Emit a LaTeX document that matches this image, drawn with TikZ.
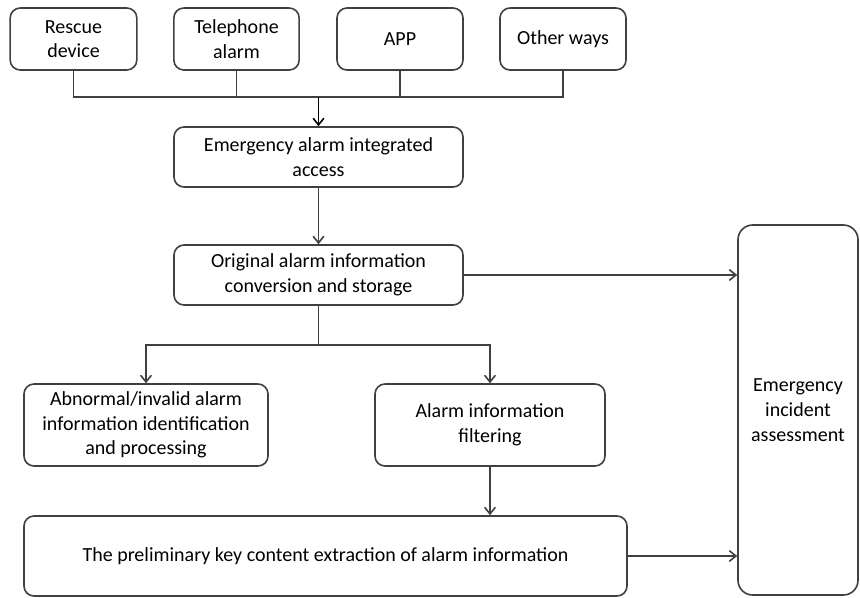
\documentclass[tikz,border=0pt]{standalone}
\usepackage{fontspec}
\setmainfont{Carlito}
\usepackage{tikz}
\usetikzlibrary{arrows.meta, calc}
\definecolor{line1}{rgb}{0.25, 0.25, 0.25}

\begin{document}
\begin{tikzpicture}[x=0.75pt, y=-0.75pt]
\tikzstyle{box} = [draw=line1, line width=1.2pt, rounded corners=7.5pt, align=center, inner sep=2pt, font=\fontsize{15}{18.5}\selectfont];
\tikzstyle{link} = [draw=line1, line width=1.2pt]
\tikzstyle{arrow} = [link, -{Straight Barb[length=5pt, width=8pt]}]

\useasboundingbox (0,0) rectangle (860,597);

\node [box, minimum width=95pt, minimum height=46.5pt] (rescue) at (73.5,39) {Rescue\\device};
\node [box, minimum width=94pt, minimum height=46.5pt] (phone) at (236.5,39) {Telephone\\alarm};
\node [box, minimum width=94.5pt, minimum height=46.5pt] (app) at (400,39) {APP};
\node [box, minimum width=94.5pt, minimum height=46.5pt] (other) at (563,39) {Other ways};

\node [box, minimum width=216.75pt, minimum height=45pt] (access) at (318.5,157) {Emergency alarm integrated\\access};
\node [box, minimum width=216.75pt, minimum height=45pt] (convert) at (318.5,275) {Original alarm information\\conversion and storage};

\node [box, minimum width=183pt, minimum height=61.5pt] (invalid) at (146,425) {Abnormal/invalid alarm\\information identification\\and processing};
\node [box, minimum width=172.5pt, minimum height=61.5pt] (filter) at (490,425) {Alarm information\\filtering};

\node [box, minimum width=452.25pt, minimum height=60pt] (extract) at (325.5,556) {The preliminary key content extraction of alarm information};

\node [box, rounded corners=11pt, minimum width=90pt, minimum height=277.5pt] (assess) at (798,410) {Emergency\\incident\\assessment};

\coordinate (bus) at (318.5,97);
\coordinate (split) at (318.5,345);

\draw [link] (rescue.south) -- (rescue.south |- bus) -- (other.south |- bus) -- (other.south);
\draw [link] (phone.south) -- (phone.south |- bus);
\draw [link] (app.south) -- (app.south |- bus);
\draw [arrow, draw=black] (bus) -- (access.north);

\draw [arrow] (access.south) -- (convert.north);
\draw [arrow] (convert.east) -- (assess.west |- convert.east);

\draw [link] (convert.south) -- (split);
\draw [arrow] (split) -| (invalid.north);
\draw [arrow] (split) -| (filter.north);

\draw [arrow] (filter.south) -- (filter.south |- extract.north);
\draw [arrow] (extract.east) -- (assess.west |- extract.east);
\end{tikzpicture}
\end{document}
